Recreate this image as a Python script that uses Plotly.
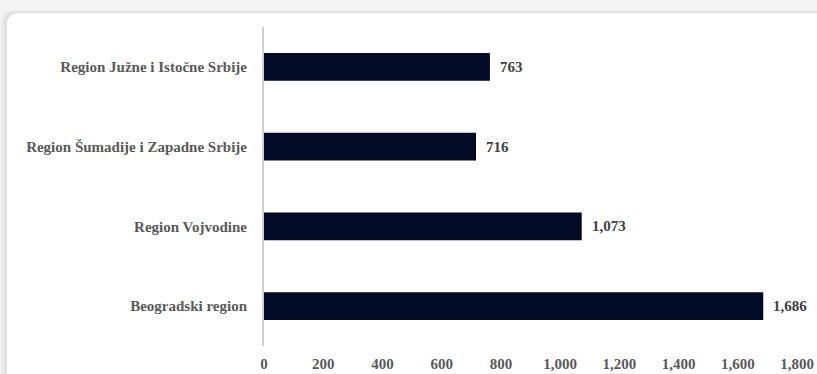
import plotly.graph_objects as go

categories = ["Beogradski region", "Region Vojvodine", "Region Šumadije i Zapadne Srbije", "Region Južne i Istočne Srbije"]
values = [1686, 1073, 716, 763]
tick_vals = [0, 200, 400, 600, 800, 1000, 1200, 1400, 1600, 1800]
tick_text = ["0", "200", "400", "600", "800", "1,000", "1,200", "1,400", "1,600", "1,800"]

W, H = 817, 374
L, R, T, B = 264, 20, 27, 28
pw, ph = W - L - R, H - T - B

def px(x):
    return (x - L) / pw

def py(y):
    return (H - B - y) / ph

def rounded(x0, y0, x1, y1, r):
    rx, ry = r / pw, r / ph
    X0, X1 = px(x0), px(x1)
    Y0, Y1 = py(y0), py(y1)  # Y0 top, Y1 bottom
    return (f"M {X0+rx},{Y0} L {X1-rx},{Y0} Q {X1},{Y0} {X1},{Y0-ry} "
            f"L {X1},{Y1+ry} Q {X1},{Y1} {X1-rx},{Y1} L {X0+rx},{Y1} "
            f"Q {X0},{Y1} {X0},{Y1+ry} L {X0},{Y0-ry} Q {X0},{Y0} {X0+rx},{Y0} Z")

fig = go.Figure()
fig.add_trace(go.Bar(
    x=values, y=categories, orientation="h",
    marker=dict(color="#020b26", line=dict(width=0)),
    hoverinfo="skip",
))

label_font = dict(family="Liberation Serif", size=15, color="#404040", weight="bold")
for v, c in zip(values, categories):
    fig.add_annotation(x=v, y=c, text=f"{v:,}", xanchor="left", yanchor="middle",
                       xshift=8, showarrow=False, font=label_font)

shapes = []
# soft shadow
for i, col in enumerate(["#ededed", "#e6e6e6", "#e0e0e0"]):
    off = 6 - 2 * i
    shapes.append(dict(type="path", xref="paper", yref="paper",
                       path=rounded(7 - off, 13 - off / 2, 830, 390, 12),
                       fillcolor=col, line=dict(width=0), layer="below"))
shapes.append(dict(type="path", xref="paper", yref="paper",
                   path=rounded(7, 13, 830, 390, 12),
                   fillcolor="white", line=dict(width=0), layer="below"))

tick_font = dict(family="Liberation Serif", size=15, color="#595959", weight="bold")

fig.update_layout(
    width=W, height=H,
    margin=dict(l=L, r=R, t=T, b=B),
    paper_bgcolor="#f4f4f4",
    plot_bgcolor="rgba(0,0,0,0)",
    showlegend=False,
    bargap=0.65,
    shapes=shapes,
    xaxis=dict(range=[0, 1800], tickvals=tick_vals, ticktext=tick_text,
               showgrid=False, zeroline=False, showline=False, automargin=False,
               ticks="", ticklabelstandoff=7, tickfont=tick_font),
    yaxis=dict(showgrid=False, zeroline=False, showline=True, linecolor="#d0d0d0", linewidth=2,
               ticks="", ticklabelstandoff=12, range=[-0.5, 3.5], automargin=False,
               tickfont=tick_font),
)

fig.write_html("out.html")
